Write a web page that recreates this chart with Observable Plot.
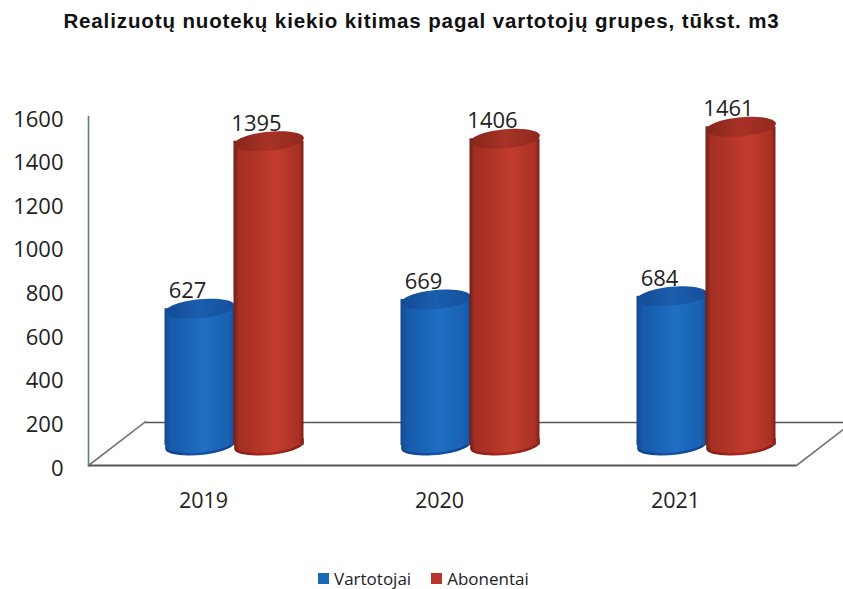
<!DOCTYPE html>
<html>
<head>
<meta charset="utf-8">
<script src="https://cdn.jsdelivr.net/npm/d3@7"></script>
<script src="https://cdn.jsdelivr.net/npm/@observablehq/plot@0.6"></script>
<style>
  html, body { margin: 0; padding: 0; background: #fff; overflow: hidden; width: 843px; height: 589px; }
  #title { height: 44px; text-align: center; font: bold 20.5px/42px "Liberation Sans", Arial, sans-serif; color: #111; letter-spacing: 0.88px; white-space: nowrap; width: 843px; }
  #legend { height: 39px; margin-top: 9px; display: flex; align-items: center; font: 17px "Open Sans", sans-serif; color: #222; padding-left: 318px; box-sizing: border-box; }
  #legend i { display: inline-block; width: 11px; height: 11px; margin-right: 5px; }
  #legend span { margin-right: 20px; display: flex; align-items: center; }
  g[aria-label="cylinder body"] rect { transform-box: fill-box; transform-origin: center; transform: skewY(-5.5deg); }
</style>
</head>
<body>
<div id="title">Realizuotų nuotekų kiekio kitimas pagal vartotojų grupes, tūkst. m3</div>
<div id="chart"></div>
<div id="legend"></div>
<script>
const years = ["2019", "2020", "2021"];
const vartotojai = [627, 669, 684];
const abonentai = [1395, 1406, 1461];
const yTicks = [0, 200, 400, 600, 800, 1000, 1200, 1400, 1600];
const seriesNames = ["Vartotojai", "Abonentai"];
const seriesColors = ["#1a66b8", "#b8362a"];

const rows = (vals) => years.map((year, i) => ({year, value: vals[i]}));

// Tilted ellipse used for the cylinder caps
const ellipse = (rx, ry, tilt) => ({
  draw(ctx) {
    const n = 48, c = Math.cos(tilt), s = Math.sin(tilt);
    for (let i = 0; i < n; ++i) {
      const t = (i / n) * 2 * Math.PI;
      const a = rx * Math.cos(t), b = ry * Math.sin(t);
      const px = a * c - b * s, py = a * s + b * c;
      i ? ctx.lineTo(px, py) : ctx.moveTo(px, py);
    }
    ctx.closePath();
  }
});
const cap = ellipse(35, 9.5, -0.096);
const spike = {draw(ctx, l) { ctx.moveTo(0, 0); ctx.lineTo(0, -l); }};

const gradient = (defs, id, stops) => {
  const g = defs.append("linearGradient").attr("id", id).attr("x1", 0).attr("x2", 1).attr("y1", 0).attr("y2", 0);
  stops.forEach(([o, c]) => g.append("stop").attr("offset", o).attr("stop-color", c));
};
const gradients = () => {
  const svg = d3.create("svg:g");
  const defs = svg.append("defs");
  gradient(defs, "bodyBlue", [[0, "#14488f"], [0.08, "#1759a8"], [0.55, "#1e6fc4"], [0.92, "#1a60b0"], [1, "#154f9a"]]);
  gradient(defs, "bodyRed", [[0, "#6f1d14"], [0.07, "#a32e22"], [0.6, "#c23c2d"], [0.93, "#a93124"], [1, "#7d2318"]]);
  gradient(defs, "topBlue", [[0, "#134a95"], [0.5, "#1a5eae"], [1, "#154f9c"]]);
  gradient(defs, "topRed", [[0, "#85261b"], [0.5, "#a83226"], [1, "#91291d"]]);
  gradient(defs, "baseBlue", [[0, "#123f8a"], [0.5, "#1550a8"], [1, "#123f8a"]]);
  gradient(defs, "baseRed", [[0, "#7d1c14"], [0.5, "#b3261d"], [1, "#7d1c14"]]);
  return svg.node();
};

const depthX = 57, depthY = 43, liftY = 20;
const barInset = 83, blueDx = -6.5, redDx = 62.5;

const cylinder = (data, dx, key) => [
  Plot.dot(data, {x: "year", y: () => 0, dx, dy: -liftY, symbol: cap, r: 10, fill: `url(#base${key})`, stroke: "none"}),
  Plot.dot(data, {x: "year", y: () => 0, dx, dy: -liftY - 2.5, symbol: cap, r: 10, fill: `url(#body${key})`, stroke: "none"}),
  Plot.barY(data, {x: "year", y: "value", dx, dy: -liftY, insetLeft: barInset, insetRight: barInset, fill: `url(#body${key})`, ariaLabel: "cylinder body"}),
  Plot.dot(data, {x: "year", y: "value", dx, dy: -liftY, symbol: cap, r: 10, fill: `url(#top${key})`, stroke: "none"})
];

const labels = (data, dx) => Plot.text(data, {x: "year", y: "value", text: d => String(d.value), dx, dy: -37.5, fontSize: 22, fill: "#222"});

const chart = Plot.plot({
  width: 843, height: 506,
  marginLeft: 88, marginRight: 47, marginTop: 72, marginBottom: 85,
  style: {fontFamily: '"Open Sans", sans-serif', background: "transparent"},
  x: {domain: years, padding: 0, axis: null},
  y: {domain: [0, 1600], axis: null},
  marks: [
    gradients,
    Plot.ruleY([0], {dx: depthX, dy: -depthY, stroke: "#555", strokeWidth: 1.6}),
    Plot.vector([0], {frameAnchor: "bottom-left", anchor: "start", length: 72, rotate: 52.5, shape: spike, stroke: "#777", strokeWidth: 1.6}),
    Plot.vector([0], {frameAnchor: "bottom-right", anchor: "start", length: 72, rotate: 52.5, shape: spike, stroke: "#777", strokeWidth: 1.6}),
    Plot.ruleY([0], {stroke: "#555", strokeWidth: 1.8}),
    Plot.frame({anchor: "left", stroke: "#5f8082", strokeWidth: 1.6}),
    ...cylinder(rows(vartotojai), blueDx, "Blue"),
    ...cylinder(rows(abonentai), redDx, "Red"),
    labels(rows(vartotojai), -19),
    labels(rows(abonentai), 50),
    Plot.axisY({ticks: yTicks, tickSize: 0, tickPadding: 25, fontSize: 22, dy: 3, fill: "#222", label: null, tickFormat: d => String(d)}),
    Plot.axisX({tickSize: 0, tickPadding: 27, fontSize: 21.5, dx: -3, fill: "#222", label: null})
  ]
});
document.getElementById("chart").appendChild(chart);

const legend = d3.select("#legend");
seriesNames.forEach((name, i) => {
  const s = legend.append("span");
  s.append("i").style("background", seriesColors[i]);
  s.append("b").style("font-weight", "normal").text(name);
});
</script>
</body>
</html>
